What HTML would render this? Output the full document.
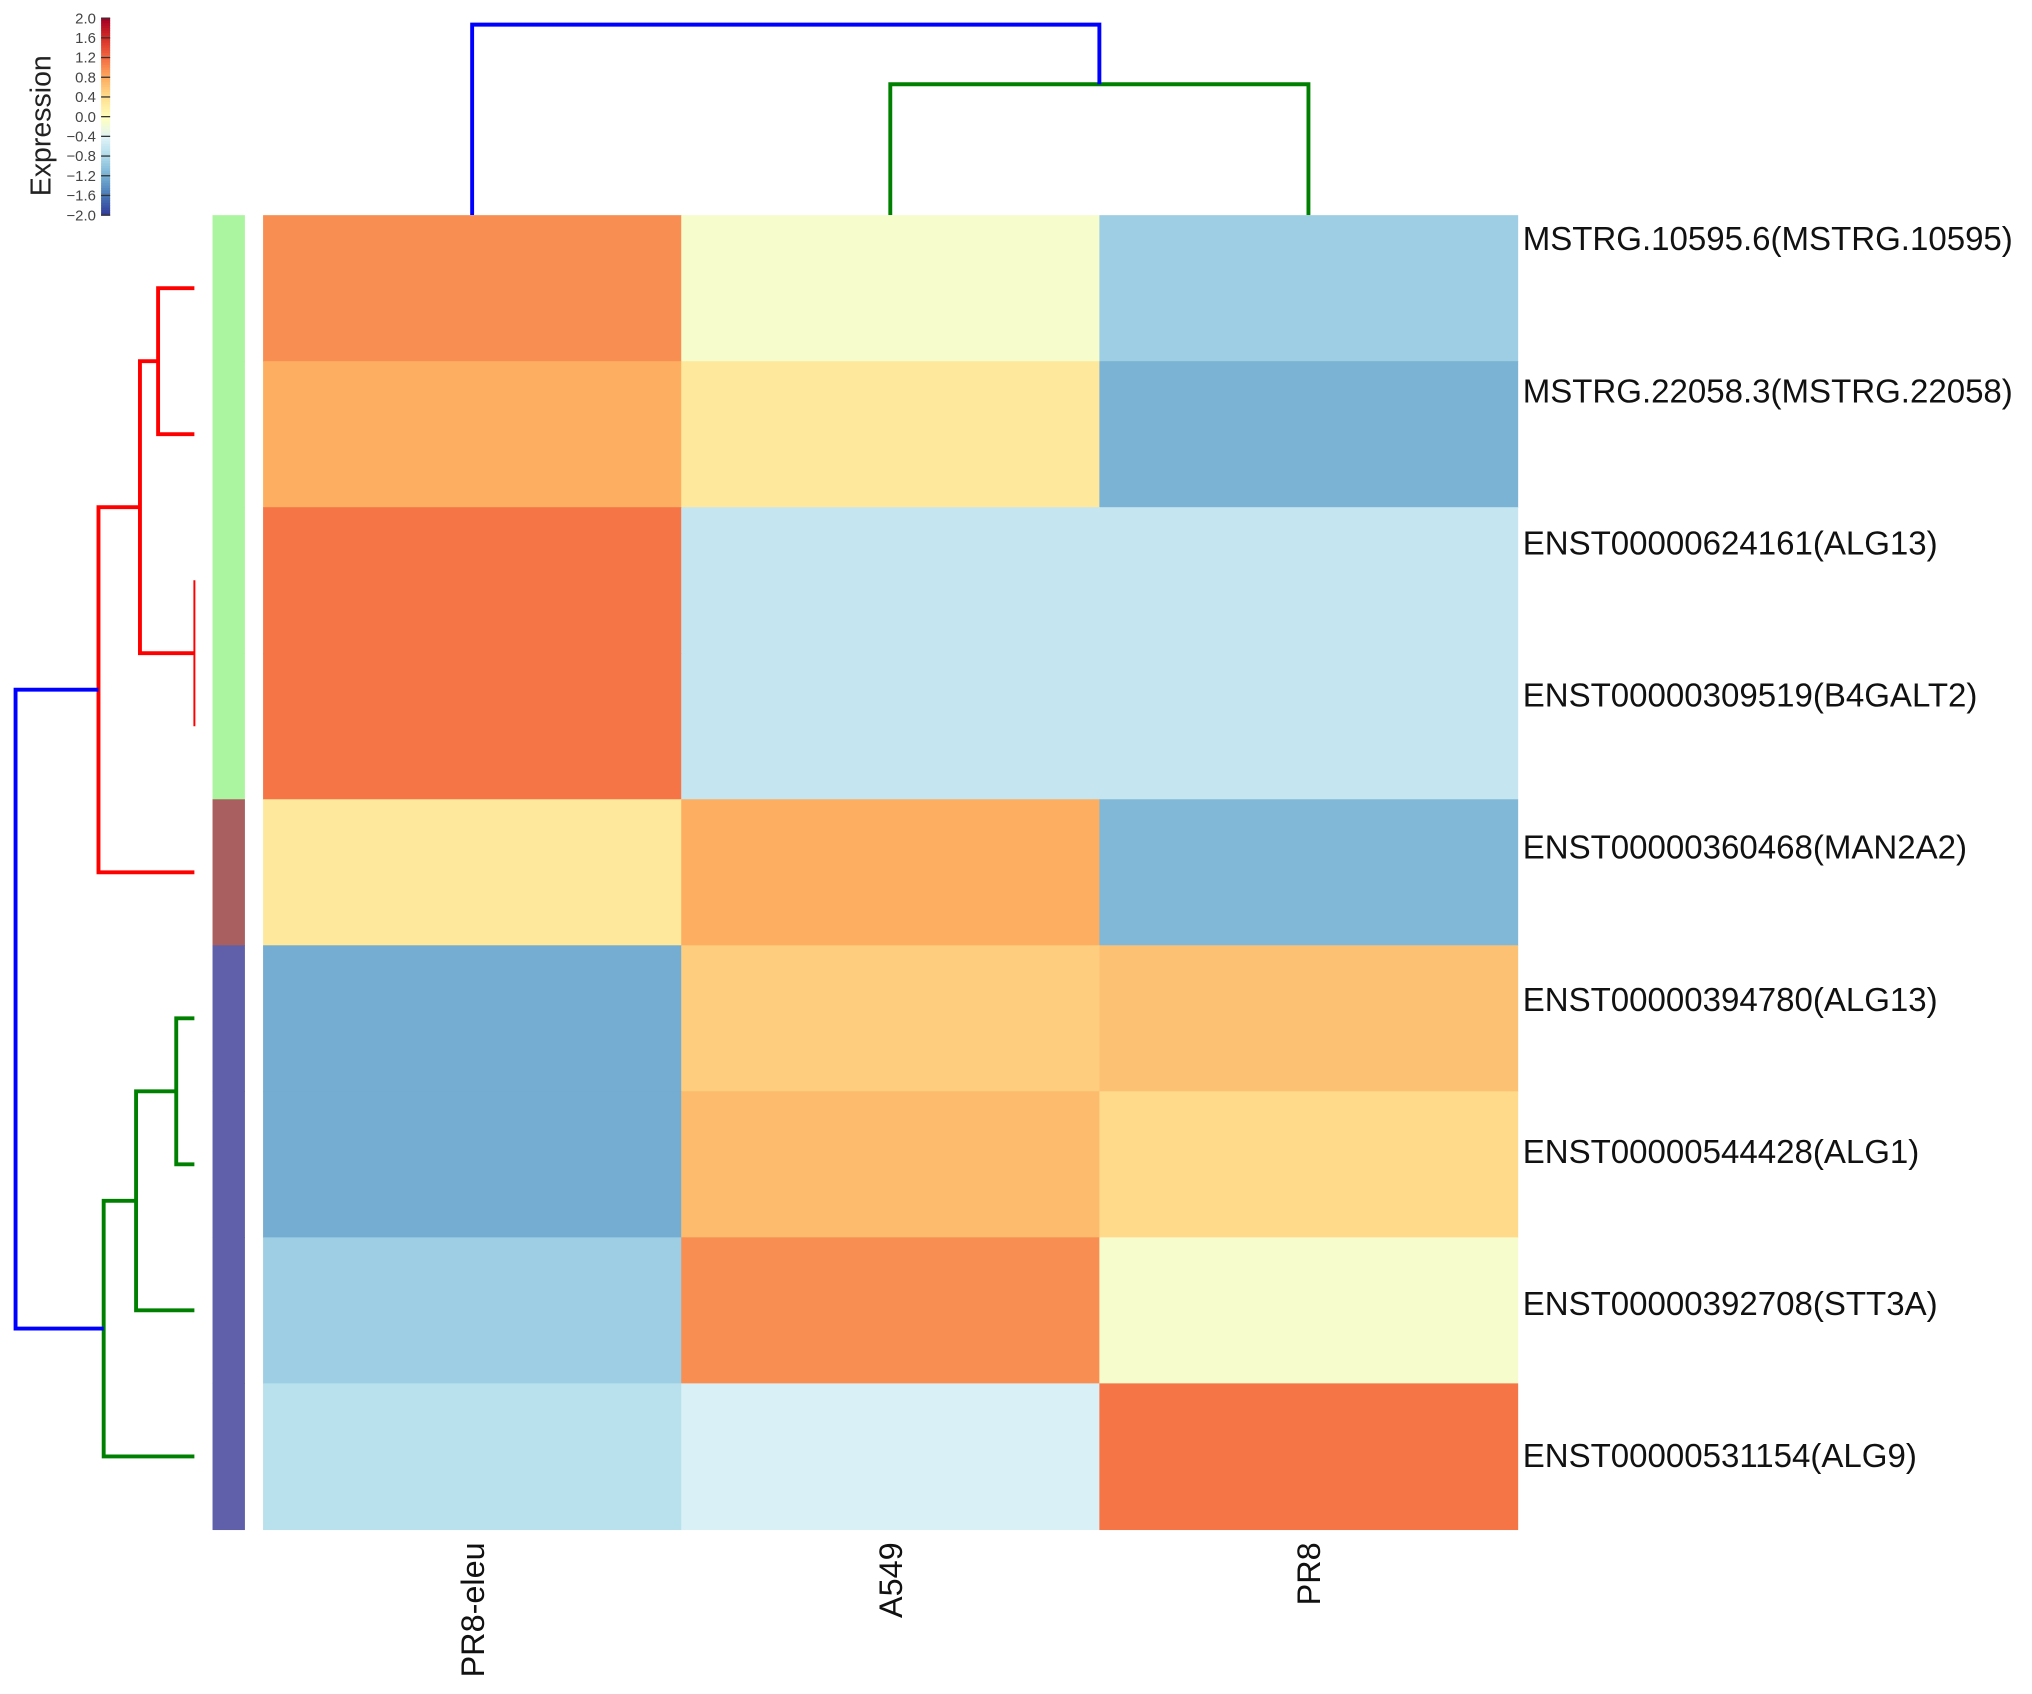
<!DOCTYPE html>
<html><head><meta charset="utf-8">
<style>
html,body{margin:0;padding:0;background:#fff;}
svg{display:block;font-family:"Liberation Sans",Arial,sans-serif;}
</style></head>
<body>
<svg id="chart" width="2032" height="1694" viewBox="0 0 1568 1307" preserveAspectRatio="none" xmlns="http://www.w3.org/2000/svg">
<g id="colorbar"></g>
<g id="topdend"></g>
<g id="leftdend"></g>
<g id="groups"></g>
<g id="cells"></g>
<g id="rowlabels"></g>
<g id="collabels"></g>
</svg>
<script>
const columns = ["PR8-eleu","A549","PR8"];
const rows = ["MSTRG.10595.6(MSTRG.10595)","MSTRG.22058.3(MSTRG.22058)","ENST00000624161(ALG13)","ENST00000309519(B4GALT2)","ENST00000360468(MAN2A2)","ENST00000394780(ALG13)","ENST00000544428(ALG1)","ENST00000392708(STT3A)","ENST00000531154(ALG9)"];
const values = [
 [1.0,-0.1,-0.9],
 [0.8,0.3,-1.15],
 [1.15,-0.6,-0.6],
 [1.15,-0.6,-0.6],
 [0.3,0.8,-1.1],
 [-1.2,0.55,0.65],
 [-1.2,0.7,0.45],
 [-0.9,1.0,-0.1],
 [-0.7,-0.45,1.15]
];
const rowGroups = [0,0,0,0,1,2,2,2,2];
const groupColors = ["#acf5a0","#a95f5f","#6060aa"];
const rowMerges = [[0,1,28,"red"],[2,3,0,"red"],[9,10,42,"red"],[11,4,74,"red"],[5,6,14,"green"],[13,7,45,"green"],[14,8,70,"green"],[12,15,138,"blue"]];
const colMerges = [[1,2,101,"#008000"],[0,3,147,"blue"]];
const colorTicks = [2.0,1.6,1.2,0.8,0.4,0.0,-0.4,-0.8,-1.2,-1.6,-2.0];
const cmap = ["#313695","#4575b4","#74add1","#abd9e9","#e0f3f8","#ffffbf","#fee090","#fdae61","#f46d43","#d73027","#a50026"];

const NS="http://www.w3.org/2000/svg";
function mk(tag,attrs,parent){const e=document.createElementNS(NS,tag);for(const k in attrs)e.setAttribute(k,attrs[k]);parent.appendChild(e);return e;}
const HX0=203,HX1=1171,HY0=166,HY1=1180;
const cw=(HX1-HX0)/columns.length, rh=(HY1-HY0)/rows.length;
const xCol=i=>HX0+i*cw, yRow=i=>HY0+i*rh;
function hex(h){return [1,3,5].map(i=>parseInt(h.substr(i,2),16));}
function color(v){let t=(Math.max(-2,Math.min(2,v))+2)/0.4;let i=Math.min(9,Math.floor(t));let f=t-i;
 const a=hex(cmap[i]),b=hex(cmap[i+1]);let c=a.map((x,k)=>x+(b[k]-x)*f);return "rgb("+c.map(Math.round).join(",")+")";}

const cells=document.getElementById('cells');
values.forEach((r,i)=>r.forEach((v,j)=>{
 const e=mk('rect',{x:xCol(j),y:yRow(i),width:cw+0.5,height:rh+0.5,fill:color(v)},cells);
 
 
}));
const rl=document.getElementById('rowlabels');
const LY0=184,LY1=1123;
rows.forEach((t,i)=>{const y=LY0+i*(LY1-LY0)/(rows.length-1);const e=mk('text',{x:1175,y:y+9,'font-size':25.5,fill:'#111'},rl);e.textContent=t;
 
 });
const cl=document.getElementById('collabels');
columns.forEach((t,j)=>{const cx=xCol(j)+cw/2+9,cy=1190;const e=mk('text',{x:cx,y:cy,'font-size':25,fill:'#111','text-anchor':'end',transform:`rotate(-90 ${cx} ${cy})`},cl);e.textContent=t;
 
 });
const gb=document.getElementById('groups');
rowGroups.forEach((g,i)=>{const e=mk('rect',{x:164,y:yRow(i),width:25,height:rh+0.5,fill:groupColors[g]},gb);
 
 });

const ld=document.getElementById('leftdend');
const rpos=rows.map((_,i)=>({y:yRow(i)+rh/2,h:0}));
rowMerges.forEach(([a,b,h,c])=>{const A=rpos[a],B=rpos[b];const x=150-h;
 const p=mk('path',{d:`M${150-A.h},${A.y}H${x}V${B.y}H${150-B.h}`,fill:'none',stroke:c,'stroke-width':h===0?1.5:3},ld);
 
 
 rpos.push({y:(A.y+B.y)/2,h:h});});
const td=document.getElementById('topdend');
const cpos=columns.map((_,j)=>({x:xCol(j)+cw/2,h:0}));
colMerges.forEach(([a,b,h,c])=>{const A=cpos[a],B=cpos[b];const y=HY0-h;
 const p=mk('path',{d:`M${A.x},${HY0-A.h}V${y}H${B.x}V${HY0-B.h}`,fill:'none',stroke:c,'stroke-width':3},td);
 
 
 cpos.push({x:(A.x+B.x)/2,h:h});});
const cb=document.getElementById('colorbar');
const CBX=78,CBW=7,CBY0=14,CBY1=166;
const yv=v=>CBY0+(2-v)/4*(CBY1-CBY0);
for(let k=0;k<80;k++){const v=2-k*4/80;const r=mk('rect',{x:CBX,y:yv(v),width:CBW,height:(CBY1-CBY0)/80+0.4,fill:color(v)},cb);
 
 }
colorTicks.forEach(v=>{const y=yv(v);
 const l=mk('line',{x1:CBX,x2:CBX+CBW,y1:y,y2:y,stroke:'#333','stroke-width':1},cb);
 
 
 const t=mk('text',{x:CBX-4,y:y+4,'font-size':11.5,'text-anchor':'end',fill:'#444'},cb);t.textContent=v.toFixed(1).replace('-','\u2212');
 
 });
const et=mk('text',{x:39,y:97,'font-size':22,'text-anchor':'middle',fill:'#222',transform:'rotate(-90 39 97)'},cb);et.textContent='Expression';


</script>
</body></html>
